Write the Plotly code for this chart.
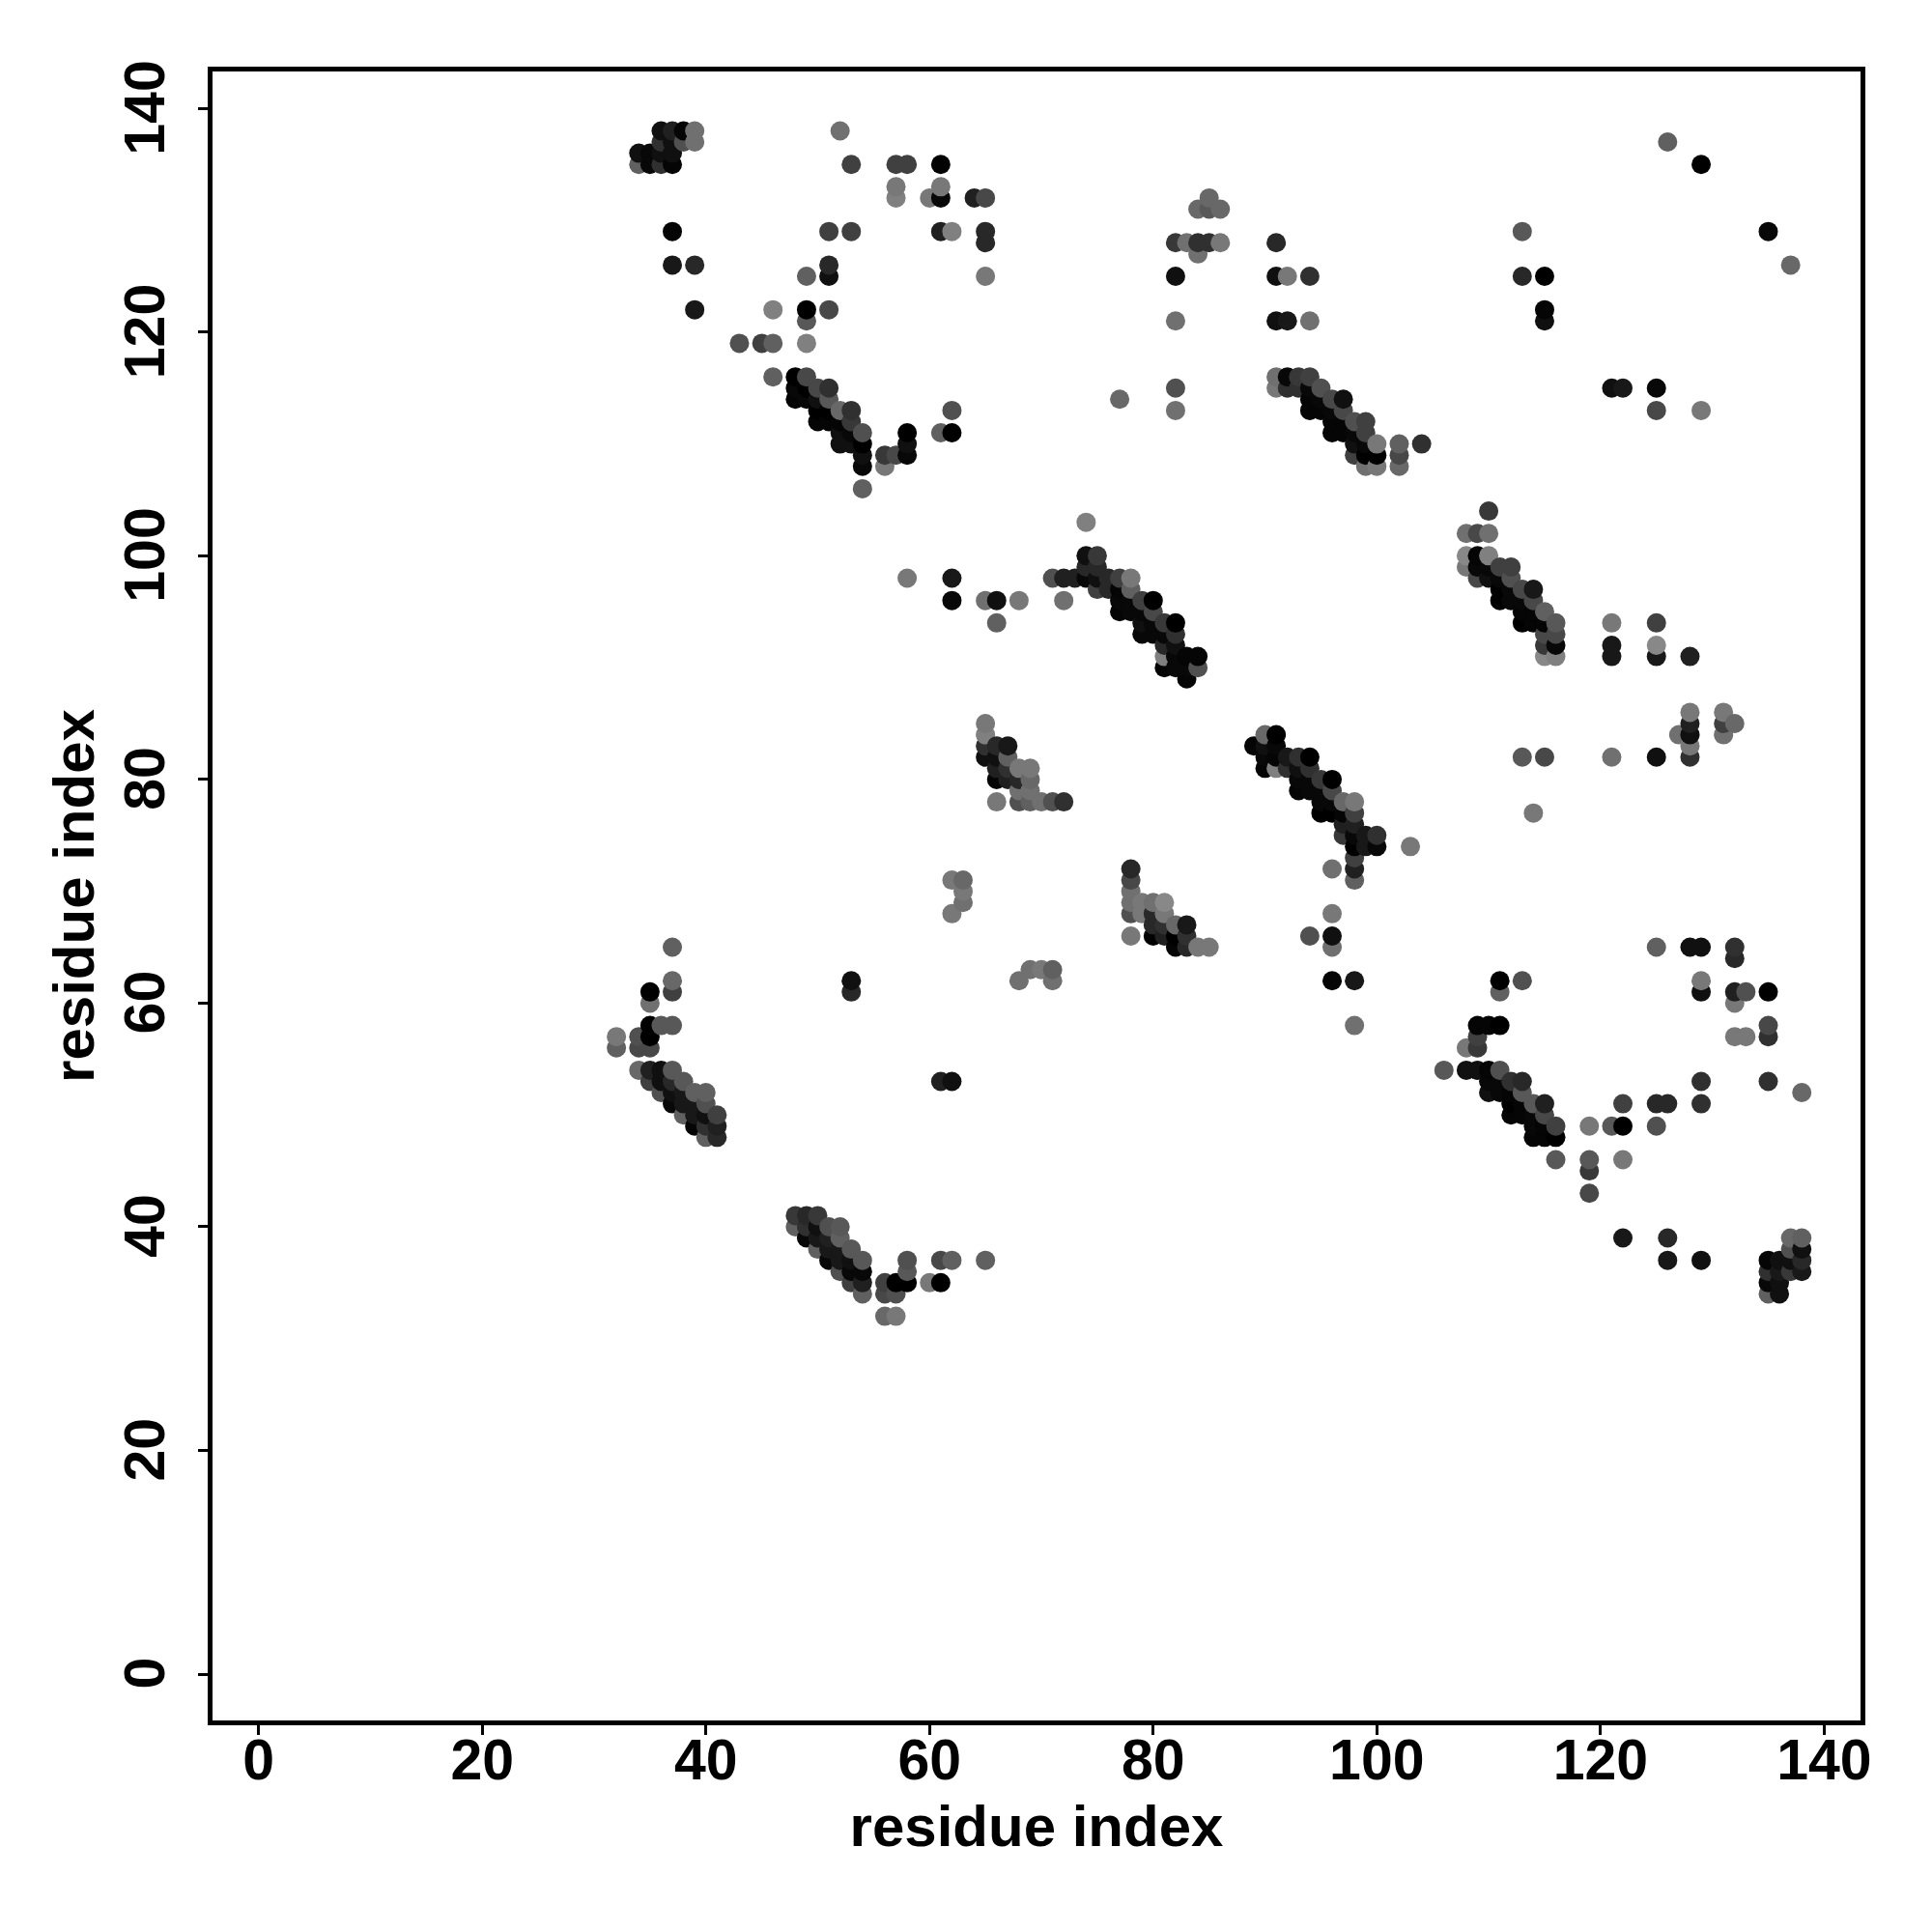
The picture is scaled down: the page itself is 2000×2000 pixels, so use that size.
import plotly.graph_objects as go

# Each contact: (residue i, residue j, grey level of the dot)
cluster_top_left = [
 (36,138,0x10),(37,138,0x20),(38,138,0x05),(39,138,0x70),(36,137,0x30),(37,137,0x10),(38,137,0x50),(39,137,0x70),
 (34,136,0x10),(35,136,0x08),(36,136,0x10),(37,136,0x10),(34,135,0x60),(35,135,0x08),(36,135,0x30),(37,135,0x05),
 (52,138,0x70),(53,135,0x40),(57,135,0x40),(58,135,0x40),(61,135,0x02),(57,133,0x78),(57,132,0x80),(60,132,0x78),
 (61,133,0x78),(61,132,0x08),(64,132,0x20),(65,132,0x48),(37,129,0x05),(51,129,0x40),(53,129,0x40),(61,129,0x20),
 (62,129,0x80),(65,129,0x28),(65,128,0x28),(37,126,0x18),(39,126,0x28),(51,126,0x28),(51,125,0x10),(49,125,0x60),
 (65,125,0x78),(39,122,0x18),(46,122,0x80),(49,122,0x00),(49,121,0x58),(51,122,0x48),(43,119,0x50),(45,119,0x40),
 (46,119,0x60),(49,119,0x80),(46,116,0x60),
]
cluster_48_116 = [
 (48,116,0x00),(49,116,0x48),(50,115,0x48),(51,115,0x30),(48,115,0x08),(49,115,0x00),(48,114,0x05),(49,114,0x08),
 (50,114,0x10),(51,114,0x58),(50,113,0x00),(51,113,0x00),(52,113,0x68),(53,113,0x30),(50,112,0x05),(51,112,0x05),
 (52,112,0x05),(53,112,0x38),(52,111,0x10),(53,111,0x08),(54,111,0x50),(52,110,0x10),(53,110,0x10),(54,110,0x00),
 (54,109,0x10),(56,109,0x38),(57,109,0x48),(58,109,0x08),(54,108,0x08),(56,108,0x78),(54,106,0x60),(58,111,0x00),
 (58,110,0x10),(61,111,0x60),(62,111,0x00),(62,113,0x50),
]
cluster_74_100 = [
 (74,103,0x80),(74,100,0x10),(75,100,0x38),(74,99,0x28),(75,99,0x28),(71,98,0x50),(72,98,0x20),(73,98,0x20),
 (74,98,0x08),(75,98,0x10),(76,98,0x28),(77,98,0x40),(78,98,0x78),(75,97,0x40),(76,97,0x28),(77,97,0x05),(78,97,0x60),
 (77,96,0x08),(78,96,0x08),(79,96,0x40),(80,96,0x00),(77,95,0x05),(78,95,0x08),(79,95,0x08),(80,95,0x48),
 (79,94,0x10),(80,94,0x08),(81,94,0x38),(82,94,0x00),(79,93,0x08),(80,93,0x08),(81,93,0x08),(82,93,0x30),
 (81,92,0x28),(82,92,0x10),(81,91,0x80),(82,91,0x08),(83,91,0x05),(84,91,0x05),(81,90,0x05),(82,90,0x08),
 (83,90,0x08),(84,90,0x50),(83,89,0x05),
]
cluster_91_116 = [
 (91,116,0x70),(92,116,0x08),(93,116,0x38),(94,116,0x40),(91,115,0x78),(92,115,0x30),(93,115,0x30),(94,115,0x08),
 (95,115,0x50),(94,114,0x05),(95,114,0x08),(96,114,0x48),(97,114,0x10),(94,113,0x05),(95,113,0x05),(96,113,0x08),
 (97,113,0x48),(96,112,0x05),(97,112,0x05),(98,112,0x50),(99,112,0x40),(96,111,0x05),(97,111,0x05),(98,111,0x08),
 (99,111,0x40),(98,110,0x10),(99,110,0x08),(100,110,0x78),(102,110,0x60),(104,110,0x30),(98,109,0x40),(99,109,0x00),
 (100,109,0x00),(102,109,0x48),(99,108,0x70),(100,108,0x78),(102,108,0x68),
]
cluster_108_102 = [
 (110,104,0x38),(108,102,0x70),(109,102,0x48),(110,102,0x70),(108,100,0x88),(109,100,0x05),(110,100,0x80),
 (108,99,0x78),(109,99,0x08),(110,99,0x08),(111,99,0x40),(112,99,0x40),(109,98,0x48),(110,98,0x10),(111,98,0x08),
 (112,98,0x50),(111,97,0x00),(112,97,0x08),(113,97,0x48),(114,97,0x18),(111,96,0x00),(112,96,0x08),(113,96,0x08),
 (114,96,0x48),(113,95,0x05),(114,95,0x05),(115,95,0x60),(113,94,0x00),(114,94,0x05),(115,94,0x05),(116,94,0x58),
 (115,93,0x48),(116,93,0x48),(115,92,0x38),(116,92,0x08),(115,91,0x88),(116,91,0x80),(121,94,0x78),(121,92,0x18),
 (121,91,0x18),(125,94,0x40),(125,92,0x88),(125,91,0x18),(128,91,0x20),
]
cluster_89_84 = [
 (90,84,0x68),(91,84,0x00),(89,83,0x05),(90,83,0x10),(91,83,0x08),(90,82,0x08),(91,82,0x05),(92,82,0x18),(93,82,0x30),
 (94,82,0x00),(90,81,0x05),(91,81,0x80),(92,81,0x30),(93,81,0x10),(94,81,0x30),(93,80,0x08),(94,80,0x08),(95,80,0x38),
 (96,80,0x00),(93,79,0x05),(94,79,0x08),(95,79,0x08),(96,79,0x48),(95,78,0x08),(96,78,0x08),(97,78,0x68),(98,78,0x78),
 (95,77,0x00),(96,77,0x00),(97,77,0x05),(98,77,0x40),(97,76,0x20),(98,76,0x20),(97,75,0x38),(98,75,0x08),(99,75,0x18),
 (100,75,0x30),(98,74,0x00),(99,74,0x18),(100,74,0x08),(103,74,0x78),(98,73,0x40),(98,72,0x20),(96,72,0x70),(98,71,0x60),
]
cluster_65_85 = [
 (65,85,0x78),(65,84,0x80),(65,83,0x30),(66,83,0x28),(67,83,0x18),(65,82,0x10),(66,82,0x10),(67,82,0x60),(66,81,0x20),
 (67,81,0x30),(68,81,0x78),(69,81,0x78),(66,80,0x05),(67,80,0x20),(68,80,0x28),(69,80,0x68),(68,79,0x70),(69,79,0x70),
 (66,78,0x78),(68,78,0x50),(69,78,0x60),(70,78,0x70),(71,78,0x50),(72,78,0x30),
]
cluster_78_72 = [
 (78,72,0x28),(78,71,0x48),(78,70,0x70),(78,69,0x70),(79,69,0x78),(80,69,0x70),(81,69,0x88),(78,68,0x50),(79,68,0x78),
 (80,68,0x28),(81,68,0x78),(80,67,0x28),(81,67,0x30),(82,67,0x68),(83,67,0x18),(78,66,0x78),(80,66,0x00),(81,66,0x20),
 (82,66,0x00),(83,66,0x30),(82,65,0x05),(83,65,0x28),(84,65,0x78),(85,65,0x78),
]
cluster_32_57 = [
 (35,60,0x70),(35,61,0x00),(37,61,0x40),(37,62,0x68),(37,65,0x60),(35,58,0x00),(36,58,0x58),(37,58,0x58),(32,57,0x78),
 (34,57,0x50),(35,57,0x00),(32,56,0x60),(34,56,0x48),(35,56,0x48),(34,54,0x68),(35,54,0x20),(36,54,0x10),(37,54,0x58),
 (35,53,0x40),(36,53,0x10),(37,53,0x28),(38,53,0x58),(36,52,0x50),(37,52,0x10),(38,52,0x18),(39,52,0x60),(40,52,0x60),
 (37,51,0x08),(38,51,0x18),(39,51,0x18),(40,51,0x50),(38,50,0x60),(39,50,0x18),(40,50,0x10),(41,50,0x40),(39,49,0x05),
 (40,49,0x30),(41,49,0x20),(40,48,0x60),(41,48,0x28),
]
cluster_48_41 = [
 (48,41,0x38),(49,41,0x28),(50,41,0x38),(48,40,0x60),(49,40,0x30),(50,40,0x10),(51,40,0x50),(52,40,0x58),(49,39,0x08),
 (50,39,0x18),(51,39,0x20),(52,39,0x60),(50,38,0x60),(51,38,0x18),(52,38,0x18),(53,38,0x58),(51,37,0x08),(52,37,0x18),
 (53,37,0x10),(54,37,0x58),(52,36,0x50),(53,36,0x08),(54,36,0x08),(53,35,0x40),(54,35,0x20),(56,35,0x40),(57,35,0x00),
 (58,35,0x00),(54,34,0x60),(56,34,0x48),(57,34,0x50),(58,37,0x50),(58,36,0x58),(56,32,0x68),(57,32,0x78),(60,35,0x78),
 (61,35,0x00),(61,37,0x48),(62,37,0x60),(65,37,0x60),
]
cluster_106_58 = [
 (109,58,0x05),(110,58,0x05),(111,58,0x00),(109,57,0x40),(108,56,0x78),(109,56,0x38),(106,54,0x58),(108,54,0x10),
 (109,54,0x10),(110,54,0x05),(111,54,0x50),(110,53,0x08),(111,53,0x08),(112,53,0x30),(113,53,0x28),(110,52,0x10),
 (111,52,0x08),(112,52,0x05),(113,52,0x58),(112,51,0x00),(113,51,0x05),(114,51,0x58),(115,51,0x20),(112,50,0x05),
 (113,50,0x05),(114,50,0x08),(115,50,0x48),(114,49,0x08),(115,49,0x05),(116,49,0x40),(119,49,0x78),(121,49,0x58),
 (122,49,0x00),(114,48,0x05),(115,48,0x05),(116,48,0x00),(116,46,0x58),(119,46,0x58),(122,46,0x78),(119,45,0x38),
 (122,51,0x40),(119,43,0x48),
]
cluster_135_39 = [
 (137,39,0x68),(138,39,0x60),(137,38,0x50),(138,38,0x10),(135,37,0x05),(136,37,0x10),(137,37,0x10),(138,37,0x28),
 (135,36,0x30),(136,36,0x18),(137,36,0x38),(138,36,0x18),(135,35,0x08),(136,35,0x10),(135,34,0x60),(136,34,0x10),
]
scattered = [
 (125,51,0x28),(126,51,0x28),(125,49,0x50),(125,65,0x60),(128,65,0x10),(129,65,0x10),(129,62,0x78),(129,61,0x10),
 (129,53,0x30),(129,51,0x30),(132,65,0x30),(132,64,0x28),(132,61,0x20),(133,61,0x50),(132,60,0x78),(132,57,0x78),
 (133,57,0x78),(135,61,0x00),(135,58,0x48),(135,57,0x30),(135,53,0x30),(138,52,0x68),(111,62,0x00),(111,61,0x60),
 (113,62,0x50),(122,39,0x18),(126,39,0x28),(126,37,0x18),(129,37,0x10),
 (126,137,0x60),(129,135,0x00),(135,129,0x08),(137,126,0x68),(113,129,0x58),(113,125,0x28),(115,125,0x00),
 (115,122,0x05),(115,121,0x10),(121,115,0x10),(122,115,0x18),(125,115,0x08),(125,113,0x48),(129,113,0x78),
 (91,128,0x28),(91,125,0x10),(92,125,0x78),(94,125,0x30),(91,121,0x10),(92,121,0x18),(94,121,0x70),
 (82,128,0x38),(83,128,0x70),(84,128,0x30),(85,128,0x30),(86,128,0x78),(84,127,0x70),(84,131,0x68),(85,132,0x68),
 (85,131,0x58),(86,131,0x68),(82,125,0x10),(82,121,0x70),(82,115,0x50),(82,113,0x70),(77,114,0x68),
 (58,98,0x78),(62,98,0x18),(62,96,0x08),(65,96,0x70),(66,96,0x10),(68,96,0x78),(66,94,0x60),(72,96,0x70),
 (121,82,0x70),(113,82,0x58),(115,82,0x48),(114,77,0x78),(125,82,0x10),(128,82,0x30),(128,86,0x78),(131,86,0x78),
 (128,85,0x20),(131,85,0x40),(132,85,0x68),(128,84,0x10),(127,84,0x70),(131,84,0x70),(128,83,0x78),
 (62,71,0x78),(63,71,0x68),(63,70,0x78),(63,69,0x70),(62,68,0x78),(68,62,0x70),(69,63,0x70),(70,63,0x78),
 (71,63,0x60),(71,62,0x70),(53,62,0x10),(53,61,0x28),(61,53,0x20),(62,53,0x10),(94,66,0x50),(96,66,0x10),
 (96,68,0x78),(96,65,0x70),(96,62,0x05),(98,62,0x18),(98,58,0x70),
]

tick_values = [0, 20, 40, 60, 80, 100, 120, 140]
axis_title = "residue index"

contacts = sorted(
    cluster_top_left + cluster_48_116 + cluster_74_100 + cluster_91_116 + cluster_108_102
    + cluster_89_84 + cluster_65_85 + cluster_78_72 + cluster_32_57 + cluster_48_41
    + cluster_106_58 + cluster_135_39 + scattered,
    key=lambda c: (c[0], c[1]),
)
residue_i = [c[0] for c in contacts]
residue_j = [c[1] for c in contacts]
grey = [f"rgb({c[2]},{c[2]},{c[2]})" for c in contacts]

FONT = "Liberation Sans"
fig = go.Figure(go.Scatter(
    x=residue_i, y=residue_j, mode="markers",
    marker=dict(size=20, color=grey, line=dict(width=0), opacity=1),
    hoverinfo="skip", showlegend=False,
))
axis = dict(
    tickvals=tick_values, ticks="outside", ticklen=10, tickwidth=3, tickcolor="black",
    showgrid=False, zeroline=False, showline=True, linecolor="black", linewidth=5, mirror=True,
    tickfont=dict(family=FONT, size=59, color="black", weight="bold"),
)
fig.update_xaxes(range=[-4.12, 143.25], ticklabelstandoff=-25,
                 title=dict(text=axis_title, font=dict(family=FONT, size=60, color="black", weight="bold"), standoff=17),
                 **axis)
fig.update_yaxes(range=[-4.145, 143.31], tickangle=-90, ticklabelstandoff=11, ticklabelshift=8,
                 title=dict(text=axis_title, font=dict(family=FONT, size=60, color="black", weight="bold"), standoff=2),
                 **axis)
fig.update_layout(
    width=1984, height=1984, autosize=False,
    margin=dict(l=211.5, r=66, t=65.5, b=211, autoexpand=False),
    plot_bgcolor="white", paper_bgcolor="white",
)
fig.write_html("out.html")
